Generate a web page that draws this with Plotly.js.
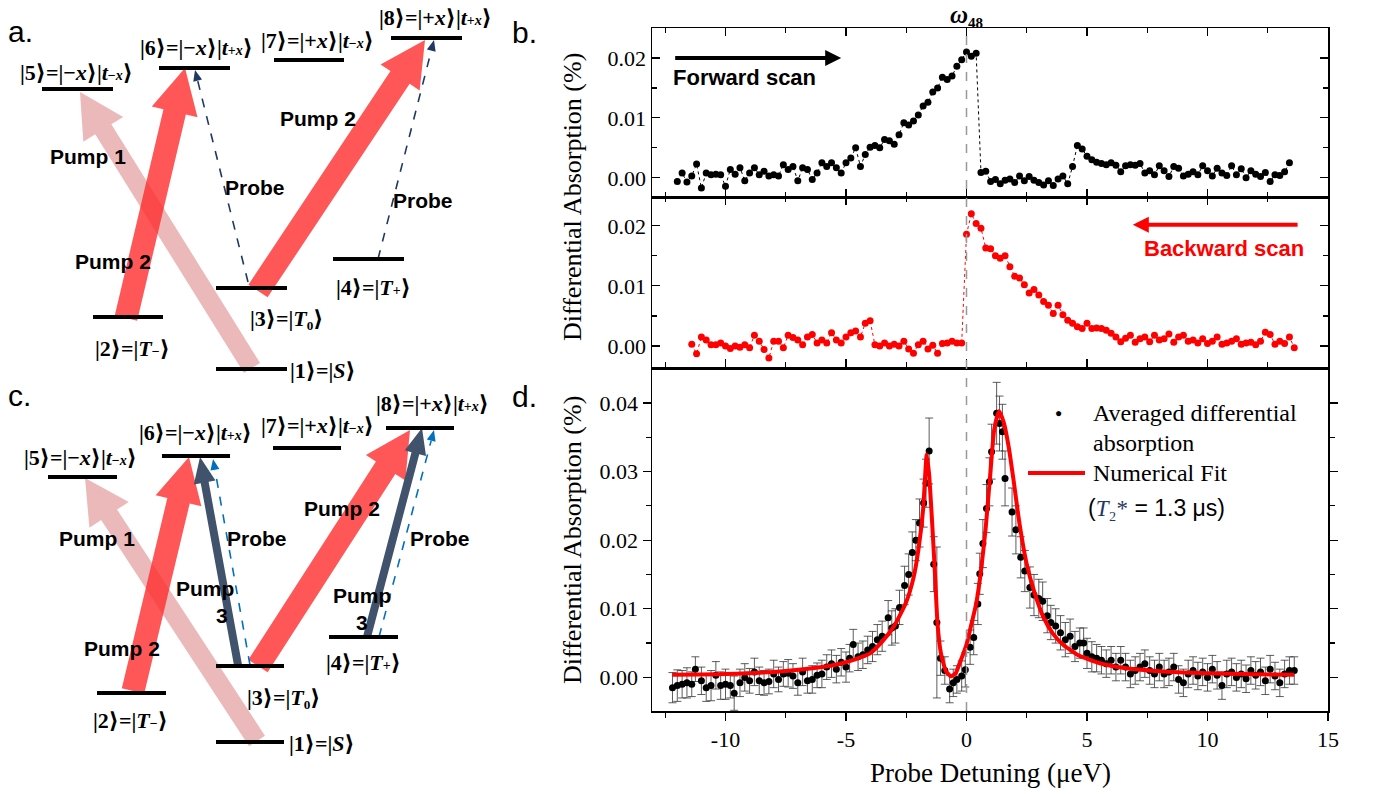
<!DOCTYPE html>
<html><head><meta charset="utf-8">
<script src="https://cdn.plot.ly/plotly-3.0.1.min.js"></script>
<style>html,body{margin:0;padding:0;background:#fff}#chart{width:1378px;height:794px}</style>
</head><body><div id="chart"></div>
<script>
// ---------------- DATA (values in units of 0.001 %) ----------------
const fwdStart = -12.0, fwdStep = 0.2;
const fwdMilli = [
 -0.6,0.8,-0.7,0.3,2.3,
 -1.7,0.8,0.5,0.6,0.5,
 -1.4,1.4,0.6,1.7,-0.5,
 0.8,1.7,0.5,1.1,0.3,
 0.5,0.3,2.2,1.4,1.9,
 -0.5,1.7,1.4,-0.3,0.8,
 2.5,1.9,2.5,1.7,0.8,
 2.5,3.3,5.0,1.9,3.9,
 5.1,5.4,5.0,6.4,6.2,
 5.6,7.2,9.2,8.8,9.5,
 10.5,12.0,12.6,14.3,15.0,
 16.8,16.4,17.0,18.6,19.7,
 21.0,20.3,20.8,0.9,1.1,
 -0.6,-0.3,-1.0,-0.4,-0.2,
 -0.8,0.3,-0.5,0.2,-0.4,
 -0.8,-1.2,-0.5,-1.3,-0.2,
 0.3,-1.0,1.9,5.4,4.8,
 3.6,3.0,2.6,2.4,2.2,
 2.5,2.1,1.0,2.0,2.2,
 2.1,2.4,0.8,1.2,0.5,
 2.0,1.2,0.2,1.9,1.6,
 0.3,0.6,1.0,0.5,2.0,
 1.2,0.3,1.6,0.8,0.4,
 2.0,0.5,1.5,0.0,1.2,
 0.6,0.2,0.9,-0.6,0.5,
 0.4,1.0,2.5
];
const bwdStart = -11.4, bwdStep = 0.2;
const bwdMilli = [
 0.3,-1.3,
 1.5,1.0,0.2,0.2,0.5,
 0.0,-0.4,0.0,-0.2,0.2,
 -0.3,1.8,0.8,-0.6,-2.0,
 0.8,0.8,-0.3,1.8,1.4,
 1.0,0.2,1.5,1.9,0.5,
 1.0,0.5,2.2,1.0,0.5,
 1.5,2.2,2.5,1.5,3.8,
 4.2,0.2,0.0,0.5,0.0,
 0.3,0.0,0.8,-0.5,-1.2,
 0.2,0.8,-0.5,0.1,-1.2,
 0.4,0.5,0.8,0.5,0.5,
 18.6,22.0,20.4,19.6,16.3,
 16.2,15.0,14.6,15.0,13.2,
 11.6,11.3,10.2,8.8,9.4,
 8.5,7.4,6.8,5.4,6.8,
 5.2,4.3,3.8,3.2,2.9,
 3.8,2.9,3.0,2.9,2.6,
 2.1,1.5,0.7,1.3,1.8,
 0.6,1.2,1.5,0.7,1.8,
 1.0,1.2,2.0,0.6,1.5,
 1.8,0.8,1.0,0.5,1.2,
 0.4,0.8,1.5,0.3,0.5,
 0.8,1.2,0.3,0.5,0.6,
 0.2,0.8,2.3,1.9,0.3,
 0.8,0.4,1.5,-0.3
];
const avgX = [
 -12.2,-12.0,-11.8,-11.6,-11.4,-11.25,-11.0,-10.8,-10.6,-10.4,
 -10.2,-10.0,-9.8,-9.64,-9.4,-9.2,-9.0,-8.8,-8.6,-8.4,
 -8.2,-8.0,-7.8,-7.6,-7.4,-7.2,-7.0,-6.8,-6.6,-6.4,
 -6.2,-6.0,-5.8,-5.6,-5.4,-5.2,-5.0,-4.85,-4.7,-4.5,
 -4.3,-4.1,-3.9,-3.7,-3.5,-3.25,-3.1,-2.95,-2.78,-2.57,
 -2.4,-2.25,-2.1,-1.95,-1.78,-1.68,-1.55,-1.36,-1.23,-1.08,
 -0.9,-0.7,-0.55,-0.4,-0.2,-0.05,0.15,0.3,0.47,0.55,
 0.68,0.83,0.95,1.04,1.25,1.37,1.49,1.6,1.89,2.05,
 2.25,2.42,2.63,2.8,3.0,3.16,3.35,3.5,3.7,3.9,
 4.1,4.3,4.5,4.7,4.86,5.0,5.2,5.4,5.6,5.8,
 6.0,6.2,6.4,6.6,6.8,7.0,7.2,7.4,7.6,7.8,
 8.0,8.2,8.4,8.6,8.8,9.0,9.2,9.4,9.6,9.8,
 10.0,10.2,10.4,10.6,10.8,11.0,11.2,11.4,11.6,11.8,
 12.0,12.2,12.4,12.6,12.8,13.0,13.2,13.4,13.6
];
const avgMilli = [
 -1.5,-1.2,-1.0,-0.8,-1.0,1.2,-0.5,-1.5,-1.2,0.3,
 -1.2,-1.0,-1.2,-2.3,-0.8,0.0,-0.5,0.8,-0.5,-0.8,
 -0.6,0.5,-0.3,0.5,0.6,0.2,-0.8,0.8,-0.5,-0.3,
 0.3,0.5,1.5,2.0,1.2,2.2,1.5,2.8,4.8,3.0,
 3.3,4.0,4.5,5.5,6.0,8.7,7.2,7.5,10.2,13.4,
 15.0,18.2,20.0,22.5,25.4,28.3,33.0,16.5,8.0,2.8,
 1.0,-1.7,-0.8,-0.3,0.2,1.1,4.4,5.8,10.7,15.1,
 19.5,24.6,28.5,32.9,38.5,37.0,35.8,29.0,24.1,21.5,
 17.5,15.5,13.1,12.0,11.5,11.1,9.0,8.0,7.5,6.5,
 5.5,6.0,4.5,5.0,5.0,3.5,3.0,2.8,2.5,2.0,
 2.5,1.5,2.5,1.5,0.5,1.0,1.5,2.0,1.0,0.5,
 1.5,0.5,0.8,1.5,-0.3,-0.8,0.5,1.0,0.2,0.8,
 0.0,1.2,0.3,-1.2,0.5,0.8,0.0,0.5,-0.2,1.0,
 0.3,0.8,-0.5,1.2,0.2,-0.8,0.5,1.0,1.0
];
const avgErrMilli = [
 2.2,2.3,2.0,2.2,1.8,1.8,2.0,2.0,2.2,2.0,
 2.0,2.2,1.8,2.5,2.0,2.0,1.8,2.0,2.0,1.8,
 1.8,2.0,1.8,1.8,2.0,1.8,1.8,2.0,1.8,2.0,
 1.8,2.0,1.8,2.0,2.0,2.0,2.2,2.0,2.2,2.0,
 2.0,2.0,2.2,2.2,2.2,2.5,2.5,2.5,2.5,2.8,
 3.0,3.0,3.0,3.5,3.5,3.5,4.8,4.0,11.0,2.5,
 2.0,2.0,2.0,2.0,2.2,2.5,2.5,2.5,3.0,3.0,
 3.5,3.5,3.5,4.0,4.5,4.0,4.0,4.0,3.5,3.5,
 3.0,3.0,3.0,3.0,2.8,2.8,2.5,2.5,2.5,2.5,
 2.5,2.5,2.2,2.2,2.2,2.2,2.2,2.0,2.0,2.0,
 2.0,2.0,2.0,2.0,2.0,2.0,2.0,2.0,2.0,2.0,
 2.0,2.0,2.0,2.0,2.0,2.0,2.0,2.0,2.0,2.0,
 2.0,2.0,2.0,2.0,2.0,2.0,2.0,2.0,2.0,2.0,
 2.0,2.0,2.0,2.0,2.0,2.0,2.0,2.0,2.0
];
const fitX = [-12.2,-10,-8,-6,-5,-4,-3.5,-3,-2.5,-2.2,-2.0,-1.8,-1.65,-1.55,-1.4,-1.3,-1.2,-1.05,-0.85,-0.65,-0.45,-0.3,-0.15,0,0.2,0.4,0.6,0.8,1.0,1.15,1.35,1.55,1.75,1.95,2.2,2.5,2.8,3.2,3.6,4.0,4.6,5.5,6.5,8,10,12,13.6];
const fitMilli = [0.4,0.5,0.8,1.5,2.2,3.5,5.2,7.5,11.0,14.5,18.5,24.5,32.5,29.5,21.0,14.5,7.7,3.3,0.9,0.15,0.6,1.9,3.3,4.8,7.7,10.7,15.5,21.9,30.2,36.1,38.8,37.1,33.6,28.8,22.4,16.5,12.6,8.7,6.3,4.8,3.3,2.1,1.4,0.9,0.6,0.45,0.4];
const xTickVals = [-10,-5,0,5,10,15];
const xTickText = ['-10','-5','0','5','10','15'];

// ---------------- DIAGRAM DATA (pixel space) ----------------
const SM = s => '<span style="font-size:14px">' + s + '</span>';
const stateLabels = [
 '|1⟩=|<i>S</i>⟩',
 '|2⟩=|<i>T</i>' + SM('−') + '⟩',
 '|3⟩=|<i>T</i>₀⟩',
 '|4⟩=|<i>T</i>' + SM('+') + '⟩',
 '|5⟩=|−<i>x</i>⟩|<i>t</i>' + SM('−<i>x</i>') + '⟩',
 '|6⟩=|−<i>x</i>⟩|<i>t</i>' + SM('+<i>x</i>') + '⟩',
 '|7⟩=|+<i>x</i>⟩|<i>t</i>' + SM('−<i>x</i>') + '⟩',
 '|8⟩=|+<i>x</i>⟩|<i>t</i>' + SM('+<i>x</i>') + '⟩'
];
const levelAx0 = [216,93,216,333,42,159,274,391];
const levelAx1 = [287,163,287,404,113,230,344,462];
const levelAy  = [369,317,288,259,89,68,60,38];
const labelAx  = [323,132,286,373,76,196,317,435];
const labelAy  = [370,348,318,287,72,47,40,17];
const levelCx0 = [216,97,216,329,48,162,273,386];
const levelCx1 = [284,166,284,398,117,230,341,454];
const levelCy  = [742,693,666,637,477,456,448,428];
const labelCx  = [322,130,283,363,80,195,317,432];
const labelCy  = [743,720,697,662,457,432,425,403];

const pumpAx0=[252,126,258], pumpAy0=[368,318,291], pumpAx1=[80,185,425], pumpAy1=[92,68,40], pumpAkind=['p1','p2','p2'];
const pumpCx0=[257,133,258,238,367], pumpCy0=[741,691,666,665,637], pumpCx1=[85,189,410,200,422], pumpCy1=[478,457,430,457,428], pumpCkind=['p1','p2','p2','p3','p3'];
const probeAx0=[248,378], probeAy0=[282,259], probeAx1=[195,434], probeAy1=[70,40];
const probeCx0=[250,379], probeCy0=[665,637], probeCx1=[213,434], probeCy1=[459,430];
const textA = ['Pump 1','Pump 2','Probe','Pump 2','Probe'];
const textAx = [88,113,255,318,423], textAy=[156,261,187,118,200];
const textC = ['Pump 1','Pump 2','Pump','3','Probe','Pump 2','Pump','3','Probe'];
const textCx = [97,122,205,222,257,342,362,362,440], textCy=[538,648,588,615,538,508,595,622,538];

// ---------------- BUILD ----------------
const milli = a => a.map(v => v/1000);
const grid = (s, st, n) => Array.from({length:n}, (_, i) => +(s + i*st).toFixed(2));

const kindStyle = {
  p1:{w:19,hw:47,hl:44,c:'rgba(215,115,115,0.5)'},
  p2:{w:23,hw:47,hl:45,c:'rgba(255,40,40,0.78)'},
  p3:{w:8,hw:22,hl:26,c:'rgba(64,82,108,1)'}
};
function arrowPoly(x0,y0,x1,y1,w,hw,hl){
  const dx=x1-x0, dy=y1-y0, L=Math.hypot(dx,dy), ux=dx/L, uy=dy/L, px=-uy, py=ux;
  const bx=x1-ux*hl, by=y1-uy*hl;
  return {
    x:[x0+px*w/2,bx+px*w/2,bx+px*hw/2,x1,bx-px*hw/2,bx-px*w/2,x0-px*w/2,x0+px*w/2],
    y:[y0+py*w/2,by+py*w/2,by+py*hw/2,y1,by-py*hw/2,by-py*w/2,y0-py*w/2,y0+py*w/2],
    bx:bx, by:by
  };
}
const traces = [];
const SERIF = 'Liberation Serif, Times New Roman, DejaVu Serif, serif';
const SANS = 'Liberation Sans, Arial, DejaVu Sans, sans-serif';

traces.push({x:grid(fwdStart,fwdStep,fwdMilli.length), y:milli(fwdMilli), xaxis:'x', yaxis:'y',
  mode:'lines+markers', marker:{color:'#000',size:7}, line:{color:'#000',width:1,dash:'dot'}, showlegend:false, hoverinfo:'skip'});
traces.push({x:grid(bwdStart,bwdStep,bwdMilli.length), y:milli(bwdMilli), xaxis:'x2', yaxis:'y2',
  mode:'lines+markers', marker:{color:'#ff0000',size:7}, line:{color:'#ff0000',width:1,dash:'dot'}, showlegend:false, hoverinfo:'skip'});
traces.push({x:avgX, y:milli(avgMilli), xaxis:'x3', yaxis:'y3', mode:'markers',
  marker:{color:'#000',size:7},
  error_y:{type:'data', array:milli(avgErrMilli), color:'#333', thickness:0.8, width:4},
  showlegend:false, hoverinfo:'skip'});
traces.push({x:fitX, y:milli(fitMilli), xaxis:'x3', yaxis:'y3', mode:'lines',
  line:{color:'#ff0000',width:4,shape:'spline',smoothing:0.5}, showlegend:false, hoverinfo:'skip'});

function addDiagram(px0,py0,px1,py1,kinds,qx0,qy0,qx1,qy1,probeColor,lx0,lx1,ly){
  for(let i=0;i<px0.length;i++){
    const s=kindStyle[kinds[i]];
    const p=arrowPoly(px0[i],py0[i],px1[i],py1[i],s.w,s.hw,s.hl);
    traces.push({x:p.x,y:p.y,xaxis:'x4',yaxis:'y4',mode:'lines',fill:'toself',fillcolor:s.c,
      line:{width:0,color:'rgba(0,0,0,0)'},showlegend:false,hoverinfo:'skip'});
  }
  for(let i=0;i<qx0.length;i++){
    const p=arrowPoly(qx0[i],qy0[i],qx1[i],qy1[i],1.5,9,11);
    traces.push({x:[qx0[i],p.bx],y:[qy0[i],p.by],xaxis:'x4',yaxis:'y4',mode:'lines',
      line:{color:probeColor,width:1.6,dash:'dash'},showlegend:false,hoverinfo:'skip'});
    const hx=[p.x[2],p.x[3],p.x[4],p.x[2]], hy=[p.y[2],p.y[3],p.y[4],p.y[2]];
    traces.push({x:hx,y:hy,xaxis:'x4',yaxis:'y4',mode:'lines',fill:'toself',fillcolor:probeColor,
      line:{width:0,color:'rgba(0,0,0,0)'},showlegend:false,hoverinfo:'skip'});
  }
  const lx=[], lyy=[];
  for(let i=0;i<lx0.length;i++){ lx.push(lx0[i],lx1[i],null); lyy.push(ly[i],ly[i],null); }
  traces.push({x:lx,y:lyy,xaxis:'x4',yaxis:'y4',mode:'lines',line:{color:'#000',width:4},showlegend:false,hoverinfo:'skip'});
}
addDiagram(pumpAx0,pumpAy0,pumpAx1,pumpAy1,pumpAkind,probeAx0,probeAy0,probeAx1,probeAy1,'#1f3864',levelAx0,levelAx1,levelAy);
addDiagram(pumpCx0,pumpCy0,pumpCx1,pumpCy1,pumpCkind,probeCx0,probeCy0,probeCx1,probeCy1,'#0070c0',levelCx0,levelCx1,levelCy);

// ---------------- ANNOTATIONS ----------------
const ann = [];
function F(family,size,color,weight){ return {family:family,size:size,color:color||'#000',weight:weight||'normal'}; }
function pix(text,x,y,font,opts){ ann.push(Object.assign({text:text,x:x,y:y,xref:'x4',yref:'y4',showarrow:false,font:font,xanchor:'center',yanchor:'middle'},opts||{})); }
for(let i=0;i<8;i++){
  pix(stateLabels[i],labelAx[i],labelAy[i],F(SERIF,22,'#000','bold'));
  pix(stateLabels[i],labelCx[i],labelCy[i],F(SERIF,22,'#000','bold'));
}
textA.forEach((t,i)=>pix(t,textAx[i],textAy[i],F(SANS,21,'#000','bold')));
textC.forEach((t,i)=>pix(t,textCx[i],textCy[i],F(SANS,21,'#000','bold')));
pix('a.',6,31,F(SANS,30),{xanchor:'left'});
pix('b.',510,32,F(SANS,30),{xanchor:'left'});
pix('c.',6,395,F(SANS,30),{xanchor:'left'});
pix('d.',510,396,F(SANS,30),{xanchor:'left'});
pix('<i>ω</i>₄₈',966,14,F(SERIF,25,'#000','bold'));
pix('Differential Absorption (%)',572,197,F(SERIF,26),{textangle:-90});
pix('Differential Absorption (%)',572,540,F(SERIF,26),{textangle:-90});
pix('Probe Detuning (μeV)',990,773,F(SERIF,27));
pix('●',1058,413,F(SANS,12));
pix('Averaged differential',1091,413,F(SERIF,24),{xanchor:'left'});
pix('absorption',1091,443,F(SERIF,24),{xanchor:'left'});
pix('Numerical Fit',1091,473,F(SERIF,24),{xanchor:'left'});
pix('(<span style="font-family:Liberation Serif;color:#1f3864"><i>T</i>₂*</span> = 1.3 μs)',1086,508,F(SANS,23),{xanchor:'left'});
ann.push({x:-5.2,y:0.02,ax:-12.15,ay:0.02,xref:'x',yref:'y',axref:'x',ayref:'y',text:'',showarrow:true,arrowhead:2,arrowsize:0.8,arrowwidth:4,arrowcolor:'#000'});
ann.push({text:'Forward scan',x:-12.25,y:0.0168,xref:'x',yref:'y',showarrow:false,xanchor:'left',yanchor:'middle',font:F(SANS,22,'#000','bold')});
ann.push({x:6.9,y:0.0202,ax:13.8,ay:0.0202,xref:'x2',yref:'y2',axref:'x2',ayref:'y2',text:'',showarrow:true,arrowhead:2,arrowsize:0.8,arrowwidth:4,arrowcolor:'#ff0000'});
ann.push({text:'Backward scan',x:14.1,y:0.0163,xref:'x2',yref:'y2',showarrow:false,xanchor:'right',yanchor:'middle',font:F(SANS,22,'#ff0000','bold')});

// ---------------- LAYOUT ----------------
const XD = [652/1378, 1328/1378];
const XR = [-13.05, 15];
function tickF(){ return {family:SERIF,size:22,color:'#000'}; }
function xAxisB(anchor){ return {domain:XD,range:XR,anchor:anchor,showticklabels:false,ticks:'inside',ticklen:8,tickwidth:1.2,tickcolor:'#000',
  dtick:5,tick0:0,minor:{ticks:'inside',ticklen:5,dtick:2.5,tick0:0,tickcolor:'#000',tickwidth:1.2},
  showline:true,linecolor:'#000',linewidth:1.5,mirror:'ticks',showgrid:false,zeroline:false,automargin:false,fixedrange:true}; }
function yAxis(domain,range,anchor,tdir){ return {domain:domain,range:range,anchor:anchor,ticks:tdir,ticklen:8,tickwidth:1.2,tickcolor:'#000',
  dtick:0.01,tick0:0,tickformat:'.2f',tickfont:tickF(),minor:{ticks:tdir,ticklen:5,dtick:0.005,tick0:0,tickcolor:'#000',tickwidth:1.2},
  showline:true,linecolor:'#000',linewidth:1.5,mirror:'ticks',showgrid:false,zeroline:false,automargin:false,fixedrange:true}; }

const layout = {
  width:1378, height:794, margin:{l:0,r:0,t:0,b:0,pad:0},
  paper_bgcolor:'#fff', plot_bgcolor:'rgba(0,0,0,0)', showlegend:false, hovermode:false,
  xaxis: xAxisB('y'),
  yaxis: yAxis([1-197/794, 1-28/794],[-0.0032,0.025],'x','inside'),
  xaxis2: xAxisB('y2'),
  yaxis2: yAxis([1-367/794, 1-197/794],[-0.0035,0.0248],'x2','inside'),
  xaxis3: {domain:XD,range:XR,anchor:'y3',tickvals:xTickVals,ticktext:xTickText,tickfont:tickF(),ticks:'outside',ticklen:8,tickwidth:1.2,tickcolor:'#000',
    minor:{ticks:'outside',ticklen:5,dtick:2.5,tick0:0,tickcolor:'#000',tickwidth:1.2},
    showline:true,linecolor:'#000',linewidth:1.5,mirror:true,showgrid:false,zeroline:false,automargin:false,fixedrange:true},
  yaxis3: yAxis([1-711/794, 1-370/794],[-0.0049,0.0448],'x3','outside'),
  xaxis4: {domain:[0,1],range:[0,1378],anchor:'y4',visible:false,fixedrange:true},
  yaxis4: {domain:[0,1],range:[794,0],anchor:'x4',visible:false,fixedrange:true},
  shapes:[
    {type:'line',xref:'x',yref:'paper',x0:0,x1:0,y0:1-711/794,y1:1-28/794,line:{color:'#999',width:1.5,dash:'dash'}},
    {type:'line',xref:'x4',yref:'y4',x0:1028,x1:1085,y0:473,y1:473,line:{color:'#ff0000',width:4}}
  ],
  annotations: ann
};
Plotly.newPlot('chart', traces, layout, {staticPlot:true, displayModeBar:false});
</script></body></html>
